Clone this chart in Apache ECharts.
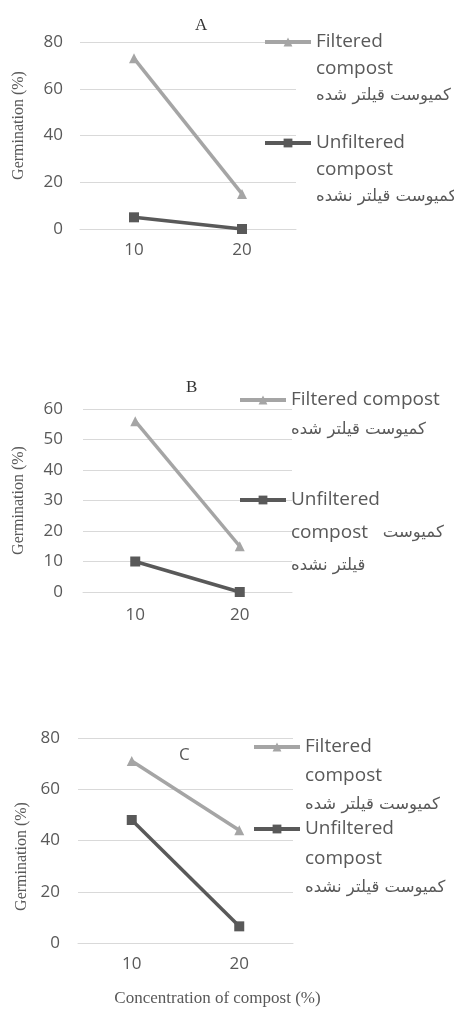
<!DOCTYPE html>
<html>
<head>
<meta charset="utf-8">
<script src="https://cdn.jsdelivr.net/npm/echarts@6/dist/echarts.min.js"></script>
<style>
  html, body { margin: 0; padding: 0; background: #fff; }
  #chart { width: 454px; height: 1010px; }
</style>
</head>
<body>
<div id="chart"></div>
<script>
// concentration categories (x axis)
const concentrations = ['10', '20'];

// germination (%)
const filteredA = [73, 15];
const unfilteredA = [5, 0];
const filteredB = [56, 15];
const unfilteredB = [10, 0];
const filteredC = [71, 44];
const unfilteredC = [48, 6.5];

const nameFiltered = 'Filtered compost';
const nameUnfiltered = 'Unfiltered compost';

const sans = '"Open Sans", "DejaVu Sans", sans-serif';
const serif = '"Liberation Serif", serif';
const grey = '#595959';
const lightLine = '#A5A5A5';
const darkLine = '#595959';

// legend block: the icon sits on the first text line, so blank lines are
// put in front of the text (the text is centred on the icon)
function legendItem(name, lines, iconX, iconY, lh) {
  const n = lines.length;
  const h = (2 * n - 1) * lh;
  const text = new Array(n - 1).fill('').concat(lines).join('\n');
  return {
    data: [name],
    orient: 'vertical',
    left: iconX,
    top: iconY - h / 2,
    padding: 0,
    itemWidth: 46,
    itemHeight: 11,
    selectedMode: false,
    lineStyle: { width: 4 },
    formatter: () => text,
    textStyle: {
      fontFamily: sans,
      fontSize: 19,
      color: grey,
      lineHeight: lh,
      rich: {
        p: { fontFamily: '"DejaVu Sans", sans-serif', fontSize: 16.5, color: grey, lineHeight: lh }
      }
    }
  };
}

function xAxisOf(gridIndex, extra) {
  return Object.assign({
    type: 'category',
    gridIndex: gridIndex,
    data: concentrations,
    boundaryGap: true,
    axisLine: { show: true, lineStyle: { color: '#D9D9D9' } },
    axisTick: { show: false },
    axisLabel: { fontFamily: sans, fontSize: 17, color: grey, margin: 13 }
  }, extra || {});
}

function yAxisOf(gridIndex, max, interval, labelMargin, nameGap, namePad) {
  return {
    type: 'value',
    gridIndex: gridIndex,
    min: 0,
    max: max,
    interval: interval,
    name: 'Germination (%)',
    nameLocation: 'middle',
    nameGap: nameGap,
    nameTextStyle: { fontFamily: serif, fontSize: 16, color: grey, padding: namePad },
    axisLine: { show: false },
    axisTick: { show: false },
    axisLabel: { fontFamily: sans, fontSize: 17, color: grey, margin: labelMargin },
    splitLine: { lineStyle: { color: '#D9D9D9', width: 1 } }
  };
}

function lineSeries(name, idx, data, color, symbol) {
  return {
    name: name,
    type: 'line',
    xAxisIndex: idx,
    yAxisIndex: idx,
    data: data,
    symbol: symbol,
    symbolSize: 10,
    color: color,
    lineStyle: { color: color, width: 3.5 },
    itemStyle: { color: color },
    animation: false
  };
}

const chart = echarts.init(document.getElementById('chart'));
chart.setOption({
  animation: false,
  title: [
    { text: 'A', left: 195, top: 17, padding: 0, textStyle: { fontFamily: serif, fontSize: 17, fontWeight: 'normal', color: '#333' } },
    { text: 'B', left: 186, top: 379, padding: 0, textStyle: { fontFamily: serif, fontSize: 17, fontWeight: 'normal', color: '#333' } },
    { text: 'C', left: 179, top: 747, padding: 0, textStyle: { fontFamily: sans, fontSize: 17, fontWeight: 'normal', color: grey } }
  ],
  legend: [
    legendItem(nameFiltered, ['Filtered', 'compost', '{p|کمیوست قیلتر شده}'], 263, 42, 27),
    legendItem(nameUnfiltered, ['Unfiltered', 'compost', '{p|کمیوست قیلتر نشده}'], 263, 143, 27),
    legendItem(nameFiltered, ['Filtered compost', '{p|کمیوست قیلتر شده}'], 238, 400, 30),
    legendItem(nameUnfiltered, ['Unfiltered', 'compost   {p|کمیوست}', '{p|قیلتر نشده}'], 238, 500, 33),
    legendItem(nameFiltered, ['Filtered', 'compost', '{p|کمیوست قیلتر شده}'], 252, 747, 29),
    legendItem(nameUnfiltered, ['Unfiltered', 'compost', '{p|کمیوست قیلتر نشده}'], 252, 829, 29.5)
  ],
  grid: [
    { left: 80, top: 42, width: 216, height: 187 },
    { left: 83, top: 409, width: 209, height: 183 },
    { left: 78, top: 738, width: 215, height: 205 }
  ],
  xAxis: [
    xAxisOf(0),
    xAxisOf(1, { axisLabel: { fontFamily: sans, fontSize: 17, color: grey, margin: 15 } }),
    xAxisOf(2, {
      name: 'Concentration of compost (%)',
      nameLocation: 'middle',
      nameGap: 47,
      nameTextStyle: { fontFamily: serif, fontSize: 17, color: grey, padding: [0, 0, 0, 64] }
    })
  ],
  yAxis: [
    yAxisOf(0, 80, 20, 17, 53, [0, 0, 0, 20]),
    yAxisOf(1, 60, 10, 20, 56, 0),
    yAxisOf(2, 80, 20, 18, 48, [0, 32, 0, 0])
  ],
  series: [
    lineSeries(nameFiltered, 0, filteredA, lightLine, 'triangle'),
    lineSeries(nameUnfiltered, 0, unfilteredA, darkLine, 'rect'),
    lineSeries(nameFiltered, 1, filteredB, lightLine, 'triangle'),
    lineSeries(nameUnfiltered, 1, unfilteredB, darkLine, 'rect'),
    lineSeries(nameFiltered, 2, filteredC, lightLine, 'triangle'),
    lineSeries(nameUnfiltered, 2, unfilteredC, darkLine, 'rect')
  ]
});
</script>
</body>
</html>
